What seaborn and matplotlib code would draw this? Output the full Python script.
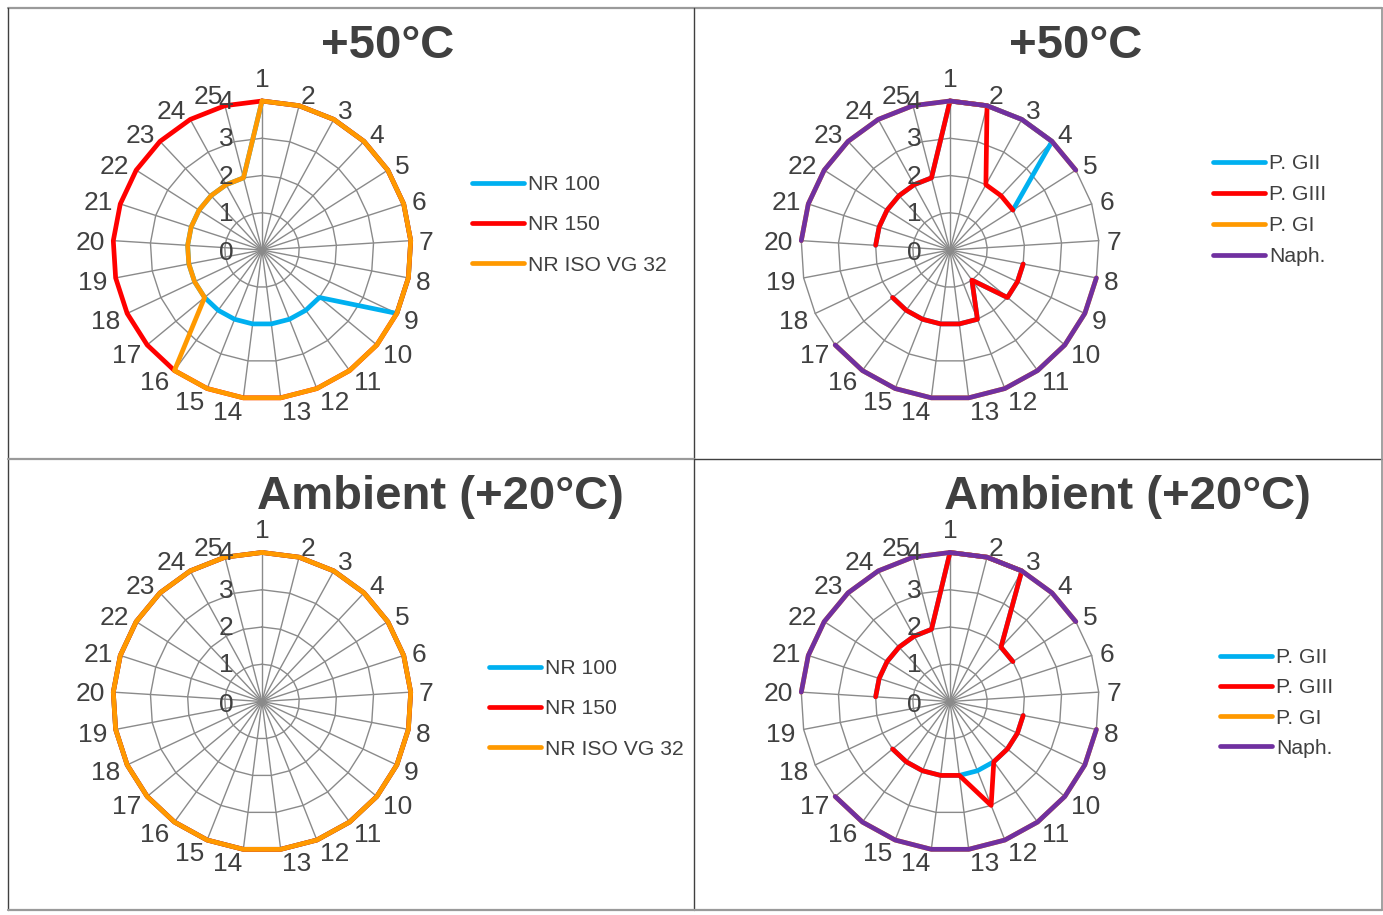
import numpy as np
import pandas as pd
import matplotlib
matplotlib.use("Agg")
import matplotlib.pyplot as plt
from matplotlib.lines import Line2D
import seaborn as sns

nan = np.nan

# 25 evaluation points around each radar
categories = ["1", "2", "3", "4", "5", "6", "7", "8", "9", "10", "11", "12", "13",
              "14", "15", "16", "17", "18", "19", "20", "21", "22", "23", "24", "25"]
radial_ticks = [0, 1, 2, 3, 4]

# NR oils at +50 °C
nr100_50 = [4, 4, 4, 4, 4, 4, 4, 4, 4, 2, 2, 2, 2, 2, 2, 2, 2, 2, 2, 2, 2, 2, 2, 2, 2]
nr150_50 = [4, 4, 4, 4, 4, 4, 4, 4, 4, 4, 4, 4, 4, 4, 4, 4, 4, 4, 4, 4, 4, 4, 4, 4, 4]
nrvg32_50 = [4, 4, 4, 4, 4, 4, 4, 4, 4, 4, 4, 4, 4, 4, 4, 4, 2, 2, 2, 2, 2, 2, 2, 2, 2]

# NR oils at ambient (+20 °C)
nr100_20 = [4, 4, 4, 4, 4, 4, 4, 4, 4, 4, 4, 4, 4, 4, 4, 4, 4, 4, 4, 4, 4, 4, 4, 4, 4]
nr150_20 = [4, 4, 4, 4, 4, 4, 4, 4, 4, 4, 4, 4, 4, 4, 4, 4, 4, 4, 4, 4, 4, 4, 4, 4, 4]
nrvg32_20 = [4, 4, 4, 4, 4, 4, 4, 4, 4, 4, 4, 4, 4, 4, 4, 4, 4, 4, 4, 4, 4, 4, 4, 4, 4]

# Base oil groups at +50 °C (blank = not tested)
pgii_50 = [4, 4, 4, 4, 2, nan, nan, 2, 2, 2, 1, 2, 2, 2, 2, 2, 2, nan, nan, 2, 2, 2, 2, 2, 2]
pgiii_50 = [4, 4, 2, 2, 2, nan, nan, 2, 2, 2, 1, 2, 2, 2, 2, 2, 2, nan, nan, 2, 2, 2, 2, 2, 2]
pgi_50 = [4, 4, 4, 4, 4, nan, nan, 4, 4, 4, 4, 4, 4, 4, 4, 4, 4, nan, nan, 4, 4, 4, 4, 4, 4]
naph_50 = [4, 4, 4, 4, 4, nan, nan, 4, 4, 4, 4, 4, 4, 4, 4, 4, 4, nan, nan, 4, 4, 4, 4, 4, 4]

# Base oil groups at ambient (+20 °C)
pgii_20 = [4, 4, 4, 2, 2, nan, nan, 2, 2, 2, 2, 2, 2, 2, 2, 2, 2, nan, nan, 2, 2, 2, 2, 2, 2]
pgiii_20 = [4, 4, 4, 2, 2, nan, nan, 2, 2, 2, 2, 3, 2, 2, 2, 2, 2, nan, nan, 2, 2, 2, 2, 2, 2]
pgi_20 = [4, 4, 4, 4, 4, nan, nan, 4, 4, 4, 4, 4, 4, 4, 4, 4, 4, nan, nan, 4, 4, 4, 4, 4, 4]
naph_20 = [4, 4, 4, 4, 4, nan, nan, 4, 4, 4, 4, 4, 4, 4, 4, 4, 4, nan, nan, 4, 4, 4, 4, 4, 4]

nr_labels = ["NR 100", "NR 150", "NR ISO VG 32"]
group_labels = ["P. GII", "P. GIII", "P. GI", "Naph."]
nr_colors = ["#00B0F0", "#FF0000", "#FF9900"]
group_colors = ["#00B0F0", "#FF0000", "#FF9900", "#7030A0"]

TEXT = "#404040"
GRID = "#8A8A8A"

sns.set_theme(style="white")
plt.rcParams["font.family"] = ["Liberation Sans", "DejaVu Sans"]

W, H = 1383, 915
fig = plt.figure(figsize=(W / 100, H / 100), dpi=100)

n = len(categories)
angles = np.arange(n) * 2 * np.pi / n
RMAX = 4.0
R_PX = 149.0
LINE_W = 3.4


def series_frame(values):
    """Close the loop and split the series at blanks into separate units."""
    vals = list(values) + [values[0]]
    th = list(angles) + [2 * np.pi]
    rows, seg = [], 0
    for t, v in zip(th, vals):
        if np.isnan(v):
            seg += 1
            continue
        rows.append({"theta": t, "value": v, "seg": seg})
    return pd.DataFrame(rows)


def radar(cx, cy, series, colors):
    size = 2 * R_PX
    ax = fig.add_axes([(cx - R_PX) / W, 1 - (cy + R_PX) / H, size / W, size / H],
                      projection="polar")
    ax.set_theta_zero_location("N")
    ax.set_theta_direction(-1)
    ax.set_axis_off()

    # polygonal rings and spokes
    ring_th = np.append(angles, 2 * np.pi)
    for r in radial_ticks[1:]:
        ax.plot(ring_th, [r] * len(ring_th), color=GRID, lw=1.0, zorder=1, clip_on=False)
    for a in angles:
        ax.plot([a, a], [0, RMAX], color=GRID, lw=1.0, zorder=1, clip_on=False)

    for values, color in zip(series, colors):
        df = series_frame(values)
        sns.lineplot(data=df, x="theta", y="value", units="seg", estimator=None,
                     sort=False, color=color, lw=LINE_W, ax=ax, legend=False,
                     clip_on=False, solid_capstyle="round", solid_joinstyle="round",
                     zorder=3)

    ax.set_ylim(0, RMAX)
    ax.set_xlim(0, 2 * np.pi)

    # category labels sit just outside the outer ring, pushed sideways
    for a, lab in zip(angles, categories):
        s, c = np.sin(a), np.cos(a)
        if abs(s) < 1e-6:
            ha, dx, dy = "center", 0.0, 21.0
        else:
            ha = "left" if s > 0 else "right"
            dx = 8.0 * s
            dy = 12.0 * c - 3.0
        ax.annotate(lab, xy=(a, RMAX), xytext=(dx, dy), textcoords="offset pixels",
                    ha=ha, va="center", fontsize=19, color=TEXT, annotation_clip=False)
    for r in radial_ticks:
        ax.annotate(str(r), xy=(0, r), xytext=(-36, -1 if r else -3),
                    textcoords="offset pixels",
                    ha="center", va="center", fontsize=19, color=TEXT, zorder=4)
    return ax


def legend(x_px, y_mid_px, labels, colors, spacing):
    handles = [Line2D([], [], color=c, lw=LINE_W, solid_capstyle="round") for c in colors]
    fig.legend(handles, labels, loc="center left",
               bbox_to_anchor=(x_px / W, 1 - y_mid_px / H),
               frameon=False, borderpad=0, borderaxespad=0, fontsize=15.2,
               handlelength=2.45, handletextpad=0.2, labelspacing=spacing,
               labelcolor=TEXT)


radar(262, 250, [nr100_50, nr150_50, nrvg32_50], nr_colors)
radar(950, 250, [pgii_50, pgiii_50, pgi_50, naph_50], group_colors)
radar(262, 701.5, [nr100_20, nr150_20, nrvg32_20], nr_colors)
radar(950, 701.5, [pgii_20, pgiii_20, pgi_20, naph_20], group_colors)

legend(472, 225, nr_labels, nr_colors, 1.0)
legend(1213, 210, group_labels, group_colors, 0.57)
legend(489, 709, nr_labels, nr_colors, 1.0)
legend(1220, 703, group_labels, group_colors, 0.53)

title_kw = dict(fontsize=34, fontweight="bold", color=TEXT, ha="center", va="baseline")
fig.text(388 / W, 1 - 58 / H, "+50°C", **title_kw)
fig.text(1076 / W, 1 - 58 / H, "+50°C", **title_kw)
fig.text(440 / W, 1 - 509 / H, "Ambient (+20°C)", **title_kw)
fig.text(1127.5 / W, 1 - 509 / H, "Ambient (+20°C)", **title_kw)


# panel frames
def fline(x0, y0, x1, y1, color, lw=1.3):
    fig.add_artist(Line2D([x0 / W, x1 / W], [1 - y0 / H, 1 - y1 / H],
                          color=color, lw=lw, transform=fig.transFigure))


fline(7.5, 8, 1382, 8, "#9A9A9A", 1.6)
fline(7.5, 8, 7.5, 910, "#404040", 1.0)
fline(694, 8, 694, 910, "#404040", 1.0)
fline(7.5, 459, 694, 459, "#9A9A9A", 1.6)
fline(694, 459, 1382, 459, "#404040", 1.0)
fline(1382, 8, 1382, 910, "#9A9A9A", 1.3)
fline(7.5, 910, 1382, 910, "#9A9A9A", 1.6)

fig.savefig("out.png", dpi=100)
